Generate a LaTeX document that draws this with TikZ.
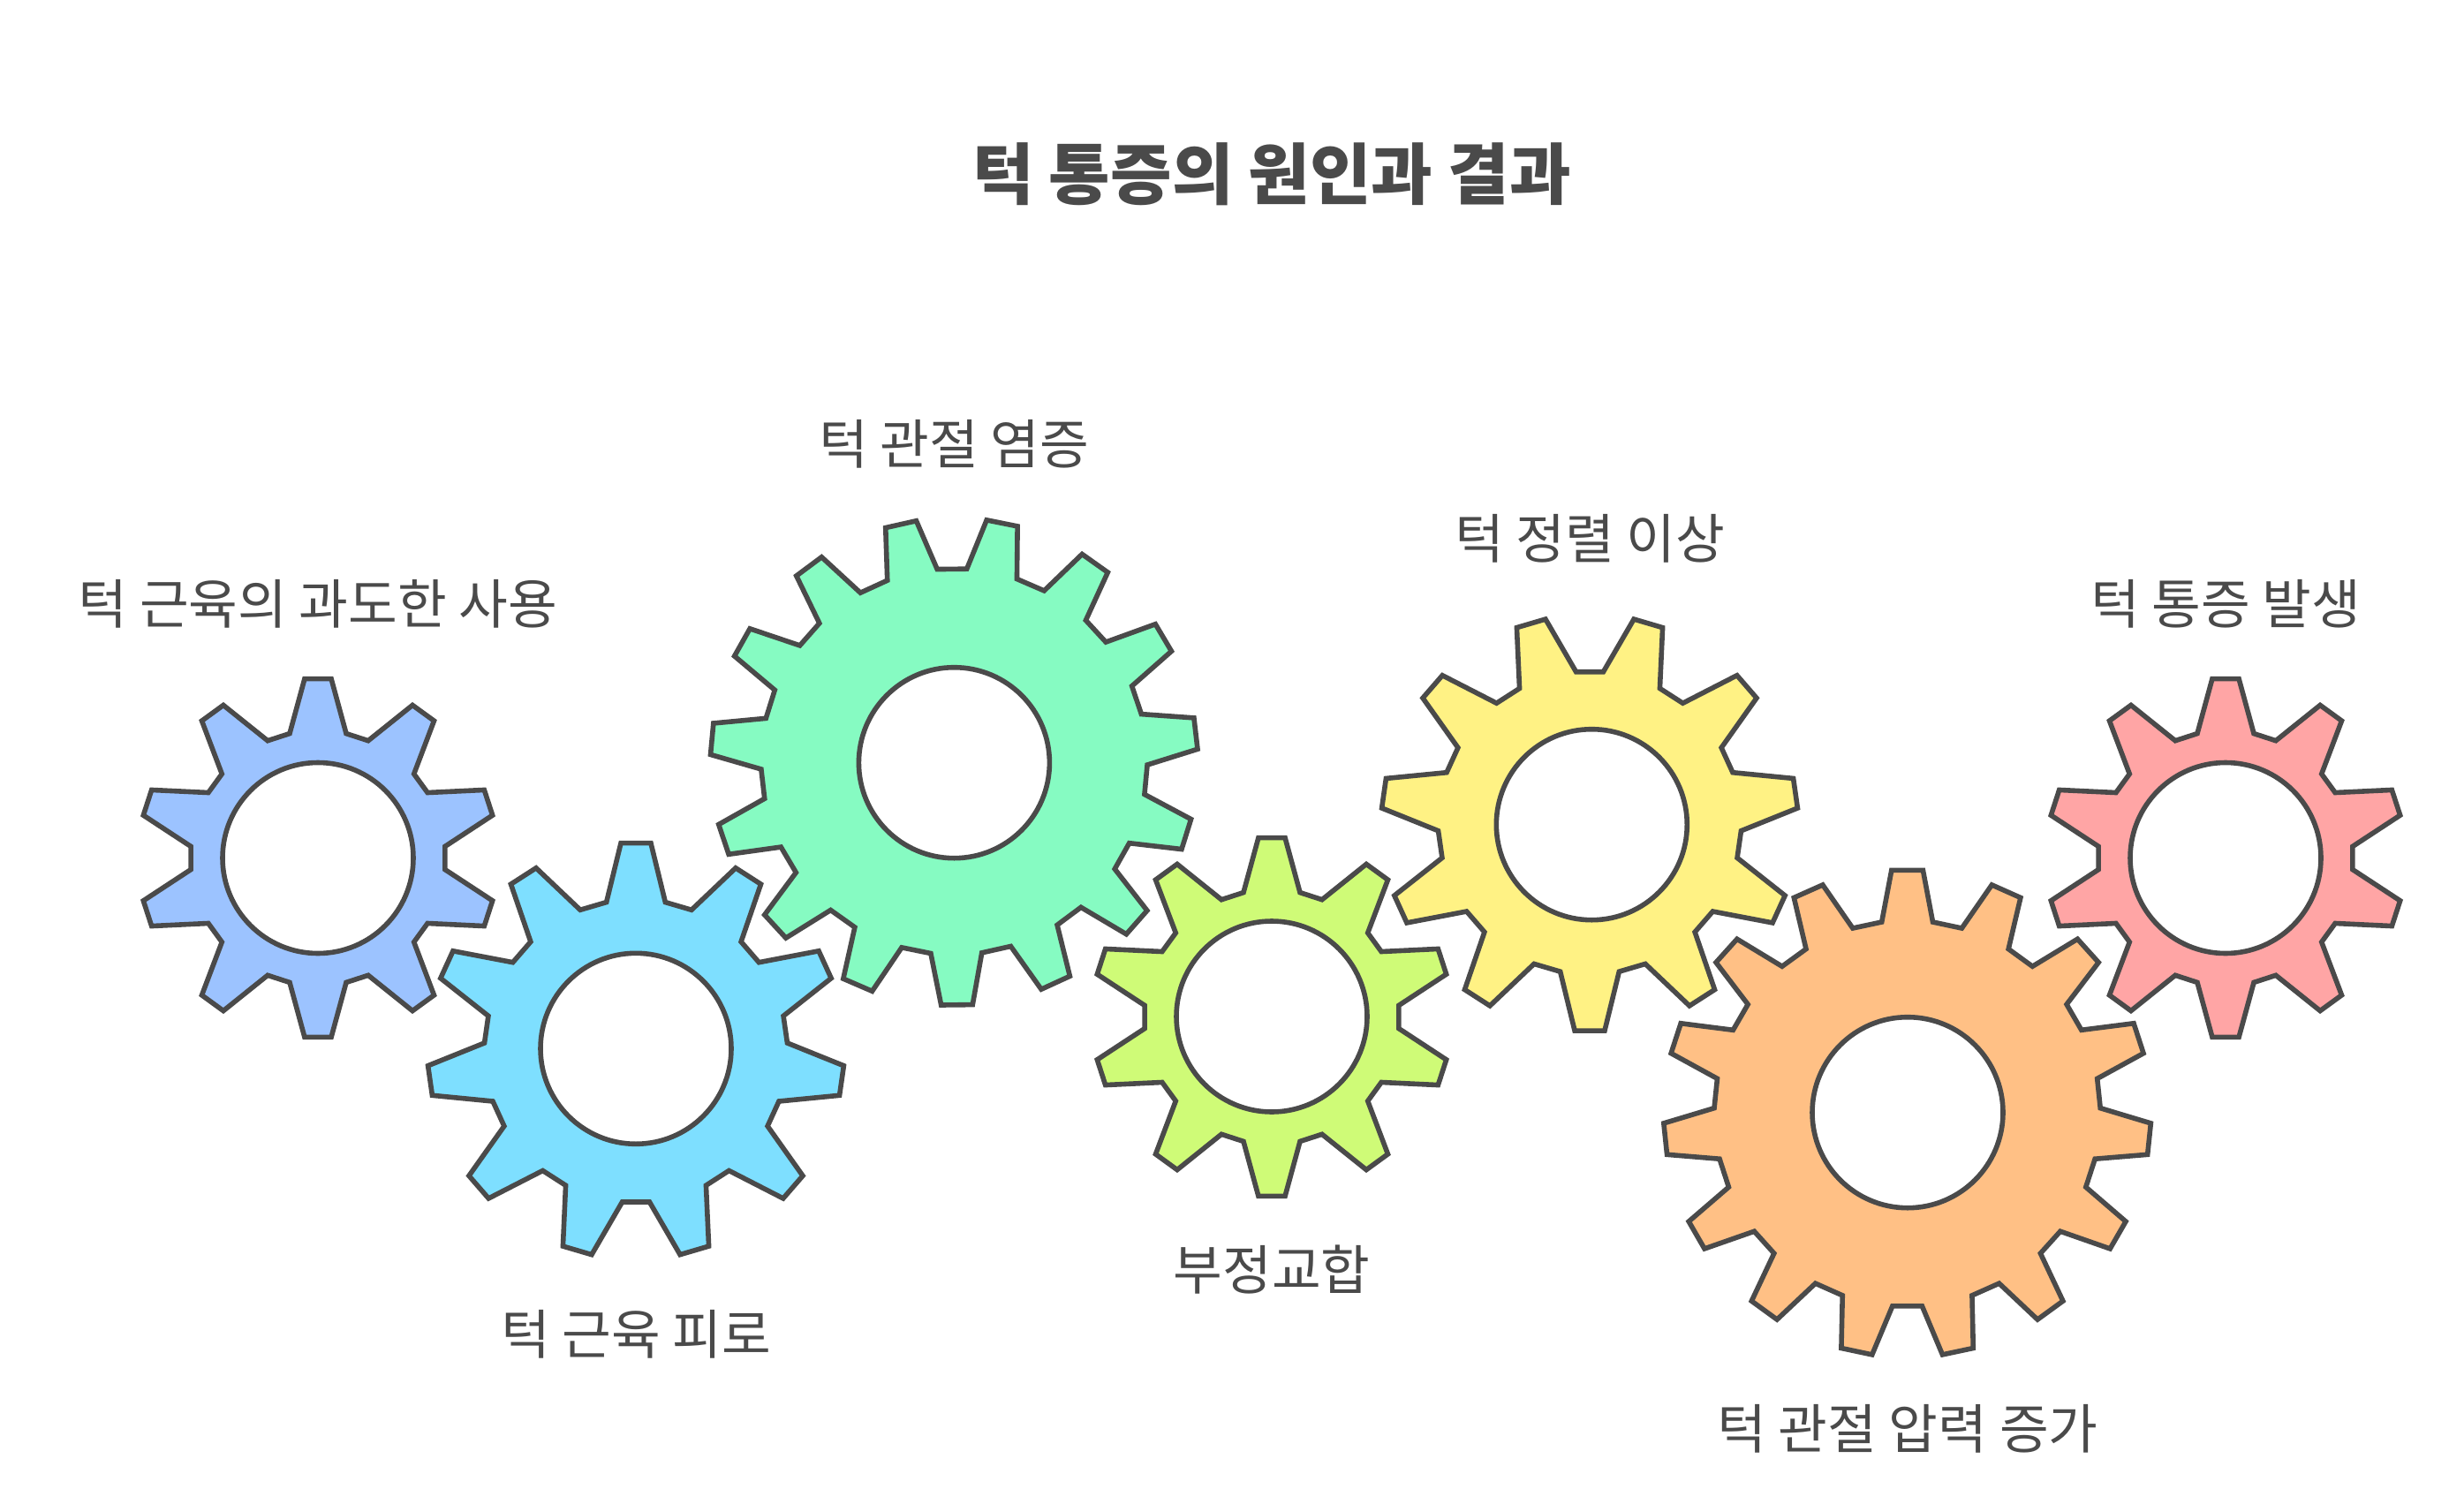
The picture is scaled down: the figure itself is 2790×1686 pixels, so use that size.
\documentclass[tikz,border=0pt]{standalone}
\usepackage{fontspec}
\setmainfont{Noto Sans CJK KR}
\usetikzlibrary{positioning}
\definecolor{gearline}{HTML}{4A4A4A}
\definecolor{gearblue}{HTML}{9CC3FF}
\definecolor{gearcyan}{HTML}{7EDFFF}
\definecolor{geargreen}{HTML}{86FBC2}
\definecolor{gearlime}{HTML}{CFFB77}
\definecolor{gearyellow}{HTML}{FFF284}
\definecolor{gearorange}{HTML}{FFC085}
\definecolor{gearpink}{HTML}{FFA5A5}
% name, centre, teeth, turn, tip radius, root radius, tip half angle, root half angle, fill
\newcommand{\gear}[9]{%
  \draw[gear,fill=#9,shift={(#2)}] ({#4-#8}:#6)
    foreach \k in {1,...,#3}{
      -- ({#4+(\k-1)*360/#3-#8}:#6) -- ({#4+(\k-1)*360/#3-#7}:#5)
      -- ({#4+(\k-1)*360/#3+#7}:#5) -- ({#4+(\k-1)*360/#3+#8}:#6)
    } -- cycle;
}
\begin{document}
\begin{tikzpicture}[x=0.5pt,y=-0.5pt,font=\fontsize{30.3pt}{36pt}\selectfont,
  gear/.style={draw=gearline,line width=2.8pt,line join=miter},
  hole/.style={circle,draw=gearline,fill=white,line width=2.8pt,minimum size=108pt,inner sep=0pt,outer sep=0pt},
  lab/.style={text=gearline,text height=26pt,text depth=6pt,inner sep=0pt}]
  \path[fill=white,use as bounding box] (0,0) rectangle (2790,1686);
  % left side
  \gear{blue}{360,971.5}{10}{-90}{203.5}{144.5}{4.25}{12.8}{gearblue}
  \node[hole](blueHole) at (360,971.5){};
  \gear{cyan}{720,1190}{11}{-90}{236}{171.7}{4.12}{11.2}{gearcyan}
  \node[hole](cyanHole) at (720,1187.3){};
  \gear{green}{1080.4,862.4}{15}{89.36}{276}{218.7}{3.7}{7.6}{geargreen}
  \node[hole](greenHole) at (1080.4,863.7){};
  \gear{lime}{1440,1151.5}{10}{-90}{203.5}{144.5}{4.25}{12.8}{gearlime}
  \node[hole](limeHole) at (1440,1151){};
  % right side
  \gear{yellow}{1800,931.7}{11}{90}{236}{171.7}{4.12}{11.2}{gearyellow}
  \node[hole](yellowHole) at (1802.3,933.7){};
  \gear{orange}{2159.6,1260.8}{15}{-90}{276}{218.7}{3.7}{7.6}{gearorange}
  \node[hole](orangeHole) at (2160,1259.7){};
  \gear{pink}{2520,971.5}{10}{-90}{203.5}{144.5}{4.25}{12.8}{gearpink}
  \node[hole](pinkHole) at (2520,971.5){};
  % labels
  \node[lab,font=\fontsize{37.8pt}{44pt}\selectfont\bfseries](title) at (1440,205){턱 통증의 원인과 결과};
  \node[lab,above=72.4pt of blueHole](blueText){턱 근육의 과도한 사용};
  \node[lab,below=93pt of cyanHole](cyanText){턱 근육 피로};
  \node[lab,above=108.9pt of greenHole](greenText){턱 관절 염증};
  \node[lab,below=74.5pt of limeHole](limeText){부정교합};
  \node[lab,above=90.2pt of yellowHole,xshift=-1pt](yellowText){턱 정렬 이상};
  \node[lab,below=110pt of orangeHole](orangeText){턱 관절 압력 증가};
  \node[lab,above=72.4pt of pinkHole](pinkText){턱 통증 발생};
\end{tikzpicture}
\end{document}
